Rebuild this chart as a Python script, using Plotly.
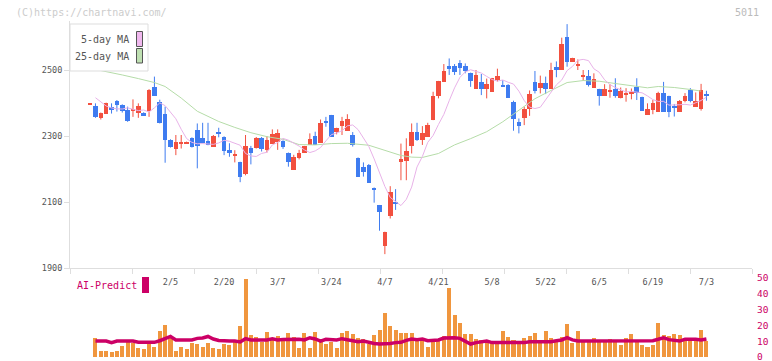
import pandas as pd
import plotly.graph_objects as go

# ---------------- data ----------------
holidays = ["2025-02-11", "2025-02-24", "2025-03-20", "2025-04-29", "2025-05-05", "2025-05-06"]
trade_days = [d for d in pd.bdate_range("2025-01-15", "2025-07-03") if d.strftime("%Y-%m-%d") not in holidays]
dates = [f"{d.month}/{d.day}" for d in trade_days]

opens = [2396, 2391, 2355, 2369, 2388, 2409, 2396, 2380, 2378, 2370,
         2370, 2376, 2449, 2406, 2368, 2288, 2262, 2280, 2279, 2296,
         2320, 2295, 2285, 2267, 2315, 2299, 2260, 2242, 2222, 2186,
         2266, 2266, 2295, 2258, 2278, 2283, 2285, 2249, 2197, 2235,
         2250, 2273, 2303, 2280, 2345, 2364, 2315, 2333, 2318, 2306,
         2235, 2207, 2215, 2140, 2091, 1968, 2059, 2099, 2222, 2227,
         2270, 2315, 2290, 2298, 2350, 2422, 2465, 2515, 2515, 2523,
         2515, 2492, 2444, 2465, 2444, 2434, 2472, 2457, 2457, 2404,
         2343, 2357, 2384, 2465, 2446, 2462, 2444, 2512, 2503, 2601,
         2525, 2515, 2482, 2482, 2447, 2443, 2422, 2437, 2443, 2416,
         2428, 2430, 2450, 2419, 2364, 2381, 2374, 2433, 2422, 2391,
         2374, 2407, 2440, 2389, 2384, 2425]
highs = [2398, 2399, 2371, 2401, 2399, 2409, 2396, 2389, 2411, 2399,
         2372, 2442, 2480, 2410, 2389, 2290, 2303, 2303, 2283, 2296,
         2338, 2340, 2340, 2303, 2325, 2299, 2278, 2257, 2222, 2303,
         2270, 2297, 2297, 2300, 2320, 2320, 2287, 2250, 2243, 2258,
         2270, 2308, 2313, 2350, 2358, 2364, 2325, 2358, 2366, 2312,
         2235, 2220, 2215, 2144, 2091, 2010, 2148, 2139, 2277, 2293,
         2338, 2340, 2330, 2340, 2434, 2467, 2518, 2535, 2518, 2530,
         2520, 2492, 2500, 2488, 2474, 2476, 2504, 2469, 2457, 2407,
         2353, 2389, 2438, 2497, 2483, 2480, 2522, 2526, 2598, 2639,
         2537, 2532, 2500, 2500, 2490, 2443, 2457, 2457, 2475, 2447,
         2445, 2444, 2475, 2419, 2399, 2409, 2434, 2464, 2422, 2397,
         2409, 2430, 2445, 2432, 2458, 2437]
lows = [2396, 2355, 2350, 2367, 2368, 2374, 2371, 2343, 2358, 2355,
        2363, 2358, 2422, 2338, 2219, 2265, 2242, 2262, 2277, 2265,
        2202, 2278, 2272, 2267, 2296, 2242, 2237, 2220, 2160, 2181,
        2214, 2262, 2253, 2250, 2278, 2258, 2261, 2207, 2197, 2229,
        2250, 2273, 2273, 2280, 2328, 2298, 2305, 2303, 2318, 2268,
        2177, 2177, 2158, 2098, 2013, 1942, 2050, 2076, 2166, 2166,
        2247, 2285, 2273, 2298, 2348, 2414, 2465, 2485, 2485, 2485,
        2490, 2449, 2444, 2424, 2414, 2434, 2465, 2450, 2417, 2316,
        2308, 2333, 2361, 2429, 2429, 2427, 2444, 2478, 2500, 2510,
        2525, 2500, 2467, 2450, 2447, 2392, 2422, 2416, 2416, 2414,
        2404, 2411, 2409, 2376, 2364, 2366, 2374, 2374, 2357, 2359,
        2374, 2402, 2402, 2389, 2377, 2407]
closes = [2398, 2360, 2370, 2401, 2382, 2396, 2378, 2348, 2381, 2391,
          2365, 2442, 2422, 2340, 2288, 2269, 2283, 2282, 2281, 2267,
          2272, 2280, 2273, 2303, 2307, 2257, 2249, 2244, 2178, 2270,
          2249, 2295, 2261, 2290, 2308, 2310, 2268, 2222, 2239, 2250,
          2270, 2293, 2273, 2340, 2343, 2298, 2325, 2348, 2353, 2273,
          2177, 2192, 2158, 2138, 2071, 2010, 2131, 2096, 2232, 2257,
          2315, 2290, 2310, 2336, 2424, 2467, 2497, 2505, 2495, 2507,
          2500, 2467, 2485, 2444, 2460, 2476, 2484, 2450, 2417, 2353,
          2333, 2384, 2429, 2437, 2462, 2444, 2503, 2503, 2579, 2525,
          2537, 2517, 2484, 2455, 2473, 2422, 2445, 2439, 2424, 2437,
          2430, 2432, 2431, 2377, 2382, 2402, 2433, 2374, 2375, 2389,
          2409, 2422, 2409, 2409, 2440, 2423]

volume = [None, 12.2, 4.0, 4.0, 3.4, 4.0, 7.2, 9.7, 9.1, 5.9,
          5.1, 9.1, 6.5, 16.7, 20.3, 11.8, 4.0, 6.5, 5.1, 9.1,
          8.2, 6.5, 9.1, 5.9, 5.1, 8.2, 7.6, 10.8, 19.8, 49.4,
          13.9, 12.9, 9.7, 16.0, 11.2, 13.3, 11.8, 15.4, 12.9, 5.9,
          15.4, 5.9, 16.0, 10.8, 8.2, 9.7, 5.9, 15.4, 16.7, 14.6,
          12.2, 11.4, 8.2, 13.9, 17.1, 28.0, 19.6, 17.1, 15.4, 15.4,
          15.4, 11.8, 10.8, 6.5, 10.8, 10.8, 13.3, 43.9, 26.6, 21.7,
          14.6, 14.6, 11.4, 10.8, 10.8, 10.1, 10.1, 16.5, 12.9, 10.8,
          9.7, 12.0, 13.3, 15.4, 9.7, 16.5, 12.0, 9.7, 12.9, 20.9,
          8.6, 16.5, 10.8, 9.7, 12.0, 10.8, 9.7, 11.4, 10.8, 7.6,
          12.0, 14.6, 9.7, 7.6, 6.1, 7.6, 21.7, 13.9, 13.3, 14.6,
          13.9, 10.8, 10.8, 10.8, 17.1, 10.1]

ai_predict = [None, 10.1, 10.1, 10.1, 9.1, 10.1, 10.1, 10.1, 10.1, 9.3,
              9.3, 9.3, 9.3, 10.3, 11.4, 13.0, 10.8, 10.8, 10.8, 10.8,
              11.8, 12.0, 13.0, 11.4, 10.5, 10.1, 10.1, 10.1, 9.5, 11.6,
              10.8, 10.8, 10.8, 10.8, 11.5, 10.8, 11.0, 11.2, 11.4, 11.2,
              10.8, 12.2, 11.4, 10.1, 11.2, 10.8, 10.8, 11.6, 11.0, 10.8,
              9.7, 10.1, 9.1, 8.6, 8.2, 8.2, 8.6, 9.1, 9.3, 10.5,
              11.4, 11.0, 11.4, 10.3, 10.3, 10.8, 12.0, 12.2, 12.2, 11.8,
              9.7, 8.2, 9.1, 9.7, 10.1, 9.1, 9.1, 9.1, 9.1, 9.1,
              9.1, 9.1, 9.7, 9.7, 9.7, 9.7, 9.7, 10.3, 10.8, 12.2,
              10.8, 10.1, 10.1, 10.1, 10.1, 10.1, 10.1, 10.1, 10.1, 10.1,
              10.1, 10.1, 10.3, 10.3, 10.3, 10.3, 11.2, 12.2, 11.0, 10.3,
              10.1, 11.2, 11.4, 11.2, 10.8, 11.4]

# 5-day MA values read before the first computable point (indices 1..4)
ma5_head = [2416, 2403, 2391, 2385]
# 25-day MA (candle index, value)
ma25_x = [0, 3, 6, 9, 12, 14, 17, 20, 24, 27, 30, 33, 36, 39, 42, 45, 48, 52, 55, 58,
          60, 62, 65, 68, 71, 74, 77, 80, 83, 86, 89, 92, 95, 98, 101, 104, 106, 109, 112, 114]
ma25_y = [2505, 2496, 2485, 2474, 2462, 2450, 2415, 2375, 2344, 2326, 2310, 2298, 2290, 2274, 2273, 2277, 2278, 2272, 2256, 2241,
          2236, 2235, 2247, 2273, 2292, 2313, 2343, 2378, 2413, 2438, 2462, 2468, 2466, 2459, 2453, 2446, 2450, 2447, 2441, 2436]

tick_labels = ["2/5", "2/20", "3/7", "3/24", "4/7", "4/21", "5/8", "5/22", "6/5", "6/19", "7/3"]
price_ticks = [1900, 2100, 2300, 2500]
vol_ticks = [0, 10, 20, 30, 40, 50]

# ---------------- derived ----------------
n = len(closes)
idx = list(range(n))
ma5_calc = pd.Series(closes).rolling(5).mean().shift(1)
ma5 = [None] + ma5_head + [ma5_calc[i] for i in range(5, n)]

UP, DOWN = "#f2503f", "#3f7cf0"
MAG = "#cc0066"
FONT = "DejaVu Sans Mono"
W, H = 772, 361

body_base = [min(o, c) for o, c in zip(opens, closes)]
body_h = [max(abs(c - o), 3) for o, c in zip(opens, closes)]
colors = [UP if c >= o else DOWN for o, c in zip(opens, closes)]

fig = go.Figure()

# wicks
for col, up in ((UP, True), (DOWN, False)):
    wx, wy = [], []
    for i in idx:
        if (closes[i] >= opens[i]) == up:
            wx += [i, i, None]
            wy += [lows[i], highs[i], None]
    fig.add_trace(go.Scatter(x=wx, y=wy, mode="lines", line=dict(color=col, width=1),
                             hoverinfo="skip", xaxis="x", yaxis="y"))

# bodies
fig.add_trace(go.Bar(x=idx, y=body_h, base=body_base, width=0.85, marker=dict(color=colors, line=dict(width=0)),
                     xaxis="x", yaxis="y"))

# moving averages
fig.add_trace(go.Scatter(x=ma25_x, y=ma25_y, mode="lines", line=dict(color="#b5dca8", width=1),
                         xaxis="x", yaxis="y"))
fig.add_trace(go.Scatter(x=idx, y=ma5, mode="lines", line=dict(color="#e8b2e8", width=1),
                         xaxis="x", yaxis="y"))

# volume + AI predict
fig.add_trace(go.Bar(x=idx, y=volume, width=0.75, marker=dict(color="#f0963e", line=dict(width=0)),
                     xaxis="x2", yaxis="y2"))
fig.add_trace(go.Scatter(x=idx, y=ai_predict, mode="lines", line=dict(color=MAG, width=3.5),
                         xaxis="x2", yaxis="y2"))

xr = [-3.75, 123.5]
tick_pos = [dates.index(t) for t in tick_labels]
frame_ticks = [xr[0] + k * (xr[1] - xr[0]) / 11 for k in range(12)]

def py(p):
    return 1 - p / H

def pxx(p):
    return p / W

fig.update_layout(
    width=W, height=H, margin=dict(l=0, r=0, t=0, b=0, autoexpand=False),
    paper_bgcolor="white", plot_bgcolor="white", showlegend=False,
    barmode="overlay", bargap=0,
    font=dict(family=FONT, color="#555555"),
    xaxis=dict(domain=[pxx(70), pxx(752)], range=xr, anchor="y", showgrid=False, zeroline=False,
               automargin=False,
               showline=True, linecolor="#dedede", linewidth=1,
               tickmode="array", tickvals=tick_pos, ticktext=tick_labels, ticks="",
               ticklabelstandoff=6, tickfont=dict(size=8.5, color="#555555", family=FONT),
               minor=dict(tickmode="array", tickvals=frame_ticks, ticks="outside", ticklen=5,
                          tickcolor="#dedede", tickwidth=1, showgrid=False)),
    yaxis=dict(domain=[py(268), py(20.5)], range=[1900, 2650], anchor="x", showgrid=False, zeroline=False,
               automargin=False,
               showline=True, linecolor="#dedede", linewidth=1,
               tickmode="array", tickvals=price_ticks, ticks="outside", ticklen=5, tickcolor="#dedede",
               tickfont=dict(size=8.5, color="#555555", family=FONT)),
    xaxis2=dict(domain=[pxx(70), pxx(752)], range=xr, anchor="y2", visible=False, automargin=False),
    yaxis2=dict(domain=[py(357), py(278)], range=[0, 50], anchor="x2", side="right", showgrid=False,
                automargin=False, ticklabeloverflow="allow", ticklabelstandoff=4,
                zeroline=False, showline=False, ticks="", tickmode="array", tickvals=vol_ticks,
                tickfont=dict(size=9.5, color=MAG, family=FONT)),
)

shapes = [
    dict(type="rect", xref="paper", yref="paper", x0=pxx(70), x1=pxx(148), y0=py(71), y1=py(24),
         line=dict(color="#dddddd", width=1), fillcolor="white", layer="above"),
    dict(type="rect", xref="paper", yref="paper", x0=pxx(136.5), x1=pxx(142.5), y0=py(46.5), y1=py(31.5),
         line=dict(color="#555555", width=1), fillcolor="#f0b8ee", layer="above"),
    dict(type="rect", xref="paper", yref="paper", x0=pxx(136.5), x1=pxx(142.5), y0=py(63), y1=py(48.5),
         line=dict(color="#555555", width=1), fillcolor="#bfe0b2", layer="above"),
    dict(type="rect", xref="paper", yref="paper", x0=pxx(142), x1=pxx(149), y0=py(293), y1=py(277),
         line=dict(width=0), fillcolor=MAG, layer="above"),
]
fig.update_layout(shapes=shapes)

ann = [
    dict(text="(C)https://chartnavi.com/", x=pxx(14), y=py(12), xanchor="left", yanchor="middle",
         font=dict(size=10, color="#cccccc", family=FONT)),
    dict(text="5011", x=pxx(733), y=py(12), xanchor="left", yanchor="middle",
         font=dict(size=10, color="#bbbbbb", family=FONT)),
    dict(text="5-day MA", x=pxx(131), y=py(39.5), xanchor="right", yanchor="middle",
         font=dict(size=10, color="#555555", family=FONT)),
    dict(text="25-day MA", x=pxx(131), y=py(56.5), xanchor="right", yanchor="middle",
         font=dict(size=10, color="#555555", family=FONT)),
    dict(text="AI-Predict", x=pxx(75), y=py(285.5), xanchor="left", yanchor="middle",
         font=dict(size=10, color=MAG, family=FONT)),
]
for a in ann:
    a.update(xref="paper", yref="paper", showarrow=False)
fig.update_layout(annotations=ann)

fig.write_html("out.html", config={"displayModeBar": False},
               post_script="document.body.style.margin='0';document.body.style.overflow='hidden';")
